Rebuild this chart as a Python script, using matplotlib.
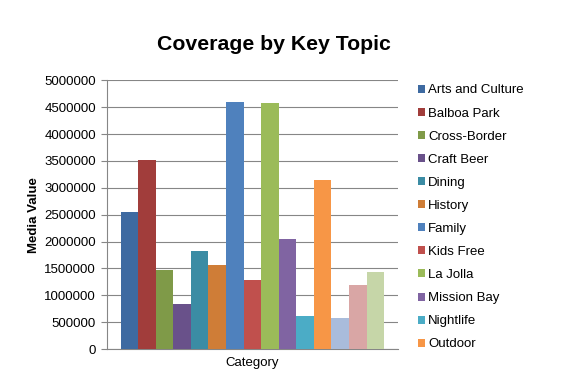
import matplotlib.pyplot as plt
import numpy as np

plt.rcParams['font.family'] = ['Liberation Sans', 'DejaVu Sans']

topics = ["Arts and Culture", "Balboa Park", "Cross-Border", "Craft Beer", "Dining",
          "History", "Family", "Kids Free", "La Jolla", "Mission Bay", "Nightlife",
          "Outdoor", "Topic 13", "Topic 14", "Topic 15"]
values = [2550000, 3520000, 1470000, 835000, 1820000,
          1560000, 4600000, 1280000, 4585000, 2045000, 610000,
          3145000, 572000, 1190000, 1430000]
colors = ["#3E6AA1", "#A13D3B", "#7F9A48", "#69518A", "#3B8CA4",
          "#CF7D37", "#4F81BD", "#C0504D", "#9BBB59", "#8064A2", "#4BACC6",
          "#F79646", "#A9BCDB", "#D9A6A5", "#C6D6A8"]
shown_in_legend = 12

fig = plt.figure(figsize=(5.69, 3.90), dpi=100)
ax = fig.add_axes([0.188, 0.105, 0.511, 0.689])

n = len(values)
x = np.arange(n)
bars = ax.bar(x, values, width=1.0, color=colors, zorder=3)

ax.set_xlim(-0.5 - 0.77, n - 0.5 + 0.77)
ax.set_ylim(0, 5000000)
ax.set_yticks(np.arange(0, 5000001, 500000))
ax.set_yticklabels([str(v) for v in range(0, 5000001, 500000)], fontsize=9.5)
ax.set_xticks([(n - 1) / 2])
ax.set_xticklabels(["Category"], fontsize=9.5)
ax.tick_params(axis='x', length=0, pad=6)
ax.tick_params(axis='y', direction='out', length=4, color='#868686', pad=4)
ax.yaxis.grid(True, color='#868686', linewidth=0.8, zorder=0)
for s in ['top', 'right']:
    ax.spines[s].set_visible(False)
for s in ['left', 'bottom']:
    ax.spines[s].set_color('#868686')
ax.set_ylabel("Media Value", fontsize=9.5, fontweight='bold', labelpad=3)

fig.text(0.482, 0.885, "Coverage by Key Topic", fontsize=15.3, fontweight='bold',
         ha='center', va='center')

leg = fig.legend(bars[:shown_in_legend], topics[:shown_in_legend],
                 loc='upper left', bbox_to_anchor=(0.725, 0.797), frameon=False,
                 fontsize=9.5, handlelength=0.55, handleheight=0.55, handletextpad=0.25,
                 labelspacing=0.84, borderaxespad=0)

fig.savefig("out.png", dpi=100)
